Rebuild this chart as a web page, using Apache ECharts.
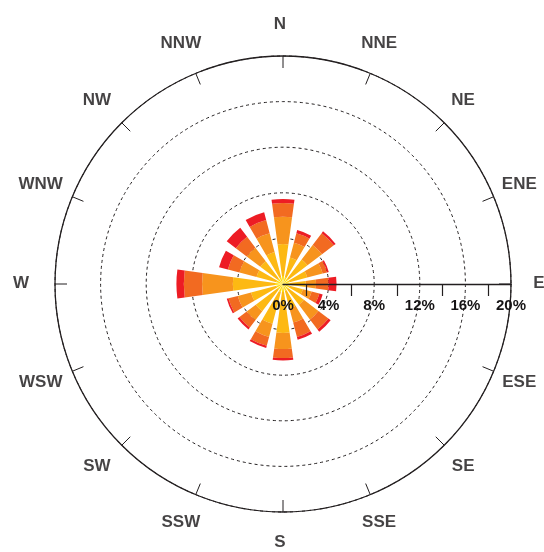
<!DOCTYPE html>
<html>
<head>
<meta charset="utf-8">
<script src="https://cdn.jsdelivr.net/npm/echarts@6/dist/echarts.min.js"></script>
<style>
html,body{margin:0;padding:0;background:#fff;}
#chart{width:544px;height:552px;}
</style>
</head>
<body>
<div id="chart"></div>
<script>
// Wind directions (clockwise from North)
const directions = ['N','NNE','NE','ENE','E','ESE','SE','SSE','S','SSW','SW','WSW','W','WNW','NW','NNW'];
// Percentage frequency per speed class (stacked from centre outward)
const class1 = [0.7,0.6,0.6,0.6,0.6,0.6,0.6,0.6,0.7,0.7,0.6,0.6,0.7,0.6,0.6,0.6];
const class2 = [2.8,1.8,2.1,1.6,1.4,1.2,1.7,1.6,3.6,2.9,2.4,2.3,3.7,1.8,1.9,2.3];
const class3 = [2.4,1.35,1.6,1.4,0.9,0.8,1.6,1.3,1.4,1.2,1.0,1.2,2.7,1.55,1.5,1.7];
const class4 = [1.2,0.85,1.3,0.4,1.1,0.7,1.1,1.3,0.8,0.8,0.8,0.85,1.6,1.05,1.2,1.2];
const class5 = [0.35,0.3,0.2,0.15,0.7,0.3,0.25,0.25,0.2,0.2,0.2,0.15,0.65,0.8,1.0,0.7];
// Radius axis
const radiusMax = 20;
const radiusStep = 4;

const classes = [class1, class2, class3, class4, class5];
const colors = ['#FFDC0A', '#FDB913', '#F7941D', '#F26A21', '#ED1C24'];
const ink = '#231F20';
const textInk = '#161415';
const fontFam = '"Liberation Sans",Arial,Helvetica,sans-serif';
const CX = 283, CY = 284, R = 228;
const startAng = 90 + 360 / directions.length / 2;

const chart = echarts.init(document.getElementById('chart'), null, {renderer: 'canvas'});

const barSeries = classes.map((arr, i) => ({
  type: 'bar',
  coordinateSystem: 'polar',
  polarIndex: 0,
  stack: 'wind',
  data: arr,
  barCategoryGap: '31%',
  itemStyle: {color: colors[i]},
  z: 2,
  silent: true
}));

const option = {
  animation: false,
  backgroundColor: '#fff',
  polar: [
    {center: [CX, CY], radius: R},
    {center: [CX - 3, CY - 1], radius: 259}
  ],
  angleAxis: [
    {
      polarIndex: 0, type: 'category', data: directions, startAngle: startAng, clockwise: true,
      axisLine: {show: true, lineStyle: {color: ink, width: 1.3}},
      axisTick: {show: true, inside: true, length: 12, alignWithLabel: true, lineStyle: {color: ink, width: 1}},
      axisLabel: {show: false},
      splitLine: {show: false}
    },
    {
      polarIndex: 1, type: 'category', data: directions, startAngle: startAng, clockwise: true,
      axisLine: {show: false}, axisTick: {show: false}, axisLabel: {show: false}, splitLine: {show: false}
    }
  ],
  radiusAxis: [
    {
      polarIndex: 0, type: 'value', min: 0, max: radiusMax, interval: radiusStep,
      axisLine: {show: false}, axisTick: {show: false}, axisLabel: {show: false},
      splitLine: {show: true, lineStyle: {color: ink, width: 1, type: [3, 3]}}
    },
    {
      polarIndex: 1, type: 'value', min: 0, max: 1,
      axisLine: {show: false}, axisTick: {show: false}, axisLabel: {show: false}, splitLine: {show: false}
    }
  ],
  grid: {left: CX, top: CY - 100, width: R, height: 100, containLabel: false},
  xAxis: {
    type: 'value', min: 0, max: radiusMax, interval: radiusStep, position: 'bottom', z: 6,
    axisLine: {show: true, lineStyle: {color: ink, width: 1.3}},
    axisTick: {show: false},
    minorTick: {show: true, splitNumber: 2, length: 12, lineStyle: {color: ink, width: 1.2}},
    splitLine: {show: false}, minorSplitLine: {show: false},
    axisLabel: {
      show: true, margin: 14, formatter: '{value}%', color: textInk,
      fontFamily: fontFam, fontWeight: 'bold', fontSize: 15
    }
  },
  yAxis: {type: 'value', show: false},
  series: barSeries.concat([{
    type: 'scatter',
    coordinateSystem: 'polar',
    polarIndex: 1,
    symbolSize: 1,
    itemStyle: {color: 'rgba(0,0,0,0)'},
    silent: true,
    data: directions.map(d => ({name: d, value: [1, d]})),
    label: {
      show: true, position: 'inside', formatter: '{b}', color: textInk,
      fontFamily: fontFam, fontWeight: 'bold', fontSize: 17
    }
  }])
};
chart.setOption(option);
</script>
</body>
</html>
